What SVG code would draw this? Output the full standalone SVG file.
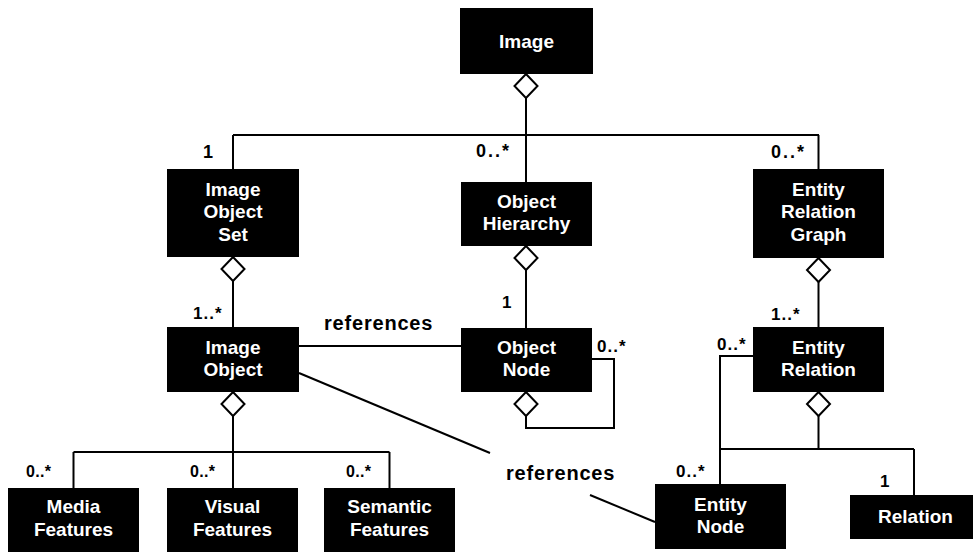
<svg xmlns="http://www.w3.org/2000/svg" width="973" height="552" viewBox="0 0 973 552">
  <style>
    .box { fill: #000; }
    .name { fill: #fff; font-family: "Liberation Sans", Arial, Helvetica, sans-serif; font-weight: bold; font-size: 19px; text-anchor: middle; }
    .mult { fill: #000; font-family: "Liberation Sans", Arial, Helvetica, sans-serif; font-weight: bold; font-size: 17px; letter-spacing: 1px; }
    .mult.top { font-size: 18px; letter-spacing: 2px; }
    .mult.low { font-size: 16px; letter-spacing: 0.3px; }
    .role { fill: #000; font-family: "Liberation Sans", Arial, Helvetica, sans-serif; font-weight: bold; font-size: 20px; letter-spacing: 0.8px; }
    .line { fill: none; stroke: #000; stroke-width: 2; }
    .agg { fill: #fff; stroke: #000; stroke-width: 2; }
  </style>
  <defs>
    <!-- hollow aggregation diamond, top vertex at origin -->
    <path id="diamond" class="agg" d="M0,0 L11.5,12 L0,24 L-11.5,12 Z"/>
  </defs>
  <rect width="973" height="552" fill="#fff"/>

  <g id="connectors">
    <!-- Image aggregates the three top-level parts -->
    <path class="line" d="M526,98 V182"/>
    <path class="line" d="M233,135 H819"/>
    <path class="line" d="M233,135 V169"/>
    <path class="line" d="M818.5,135 V169"/>
    <!-- Image Object Set to Image Object -->
    <path class="line" d="M233,281 V327"/>
    <!-- Image Object to features -->
    <path class="line" d="M233,416 V452"/>
    <path class="line" d="M73.5,452 H389.5"/>
    <path class="line" d="M73.5,452 V488"/>
    <path class="line" d="M389.5,452 V488"/>
    <path class="line" d="M233,452 V488"/>
    <!-- references links -->
    <path class="line" d="M299,346 H461"/>
    <path class="line" d="M299,373 L490,453"/>
    <path class="line" d="M590,495 L655,522"/>
    <!-- Object Hierarchy to Object Node -->
    <path class="line" d="M526,270 V328"/>
    <!-- Object Node self-aggregation -->
    <path class="line" d="M592,359 H614 V428 H526 V416"/>
    <!-- Entity Relation Graph to Entity Relation -->
    <path class="line" d="M818.5,282 V327"/>
    <!-- Entity Relation to Entity Node and Relation -->
    <path class="line" d="M753,356 H720 V484"/>
    <path class="line" d="M818.5,416 V449"/>
    <path class="line" d="M720,449 H914"/>
    <path class="line" d="M914,449 V495"/>
    <!-- aggregation diamonds -->
    <use href="#diamond" x="526" y="74"/>
    <use href="#diamond" x="233" y="257"/>
    <use href="#diamond" x="233" y="392"/>
    <use href="#diamond" x="526" y="246"/>
    <use href="#diamond" x="526" y="392"/>
    <use href="#diamond" x="818.5" y="258"/>
    <use href="#diamond" x="818.5" y="392"/>
    <!-- multiplicities and role labels -->
    <text class="mult top" x="203" y="158">1</text>
    <text class="mult top" x="476" y="157">0..*</text>
    <text class="mult top" x="771" y="158">0..*</text>
    <text class="mult" x="193" y="319">1..*</text>
    <text class="mult" x="502" y="308">1</text>
    <text class="mult" x="597" y="352">0..*</text>
    <text class="mult" x="771" y="320">1..*</text>
    <text class="mult" x="717" y="350">0..*</text>
    <text class="mult low" x="26" y="477">0..*</text>
    <text class="mult low" x="190" y="477">0..*</text>
    <text class="mult low" x="346" y="477">0..*</text>
    <text class="mult" x="676" y="477">0..*</text>
    <text class="mult" x="880" y="487">1</text>
    <text class="role" x="324" y="330">references</text>
    <text class="role" x="506" y="480">references</text>
  </g>

  <g id="image">
    <rect class="box" x="460" y="8" width="133" height="66"/>
    <text class="name" x="526.5" y="48">Image</text>
  </g>
  <g id="image-object-set">
    <rect class="box" x="167" y="169" width="132" height="88"/>
    <text class="name" x="233" y="195.5">Image</text>
    <text class="name" x="233" y="218">Object</text>
    <text class="name" x="233" y="240.5">Set</text>
  </g>
  <g id="object-hierarchy">
    <rect class="box" x="461" y="182" width="131" height="64"/>
    <text class="name" x="526.5" y="207.5">Object</text>
    <text class="name" x="526.5" y="230">Hierarchy</text>
  </g>
  <g id="entity-relation-graph">
    <rect class="box" x="753" y="169" width="131" height="89"/>
    <text class="name" x="818.5" y="195.5">Entity</text>
    <text class="name" x="818.5" y="218">Relation</text>
    <text class="name" x="818.5" y="240.5">Graph</text>
  </g>
  <g id="image-object">
    <rect class="box" x="167" y="327" width="132" height="65"/>
    <text class="name" x="233" y="353.5">Image</text>
    <text class="name" x="233" y="376">Object</text>
  </g>
  <g id="object-node">
    <rect class="box" x="461" y="328" width="131" height="64"/>
    <text class="name" x="526.5" y="353.5">Object</text>
    <text class="name" x="526.5" y="375.5">Node</text>
  </g>
  <g id="entity-relation">
    <rect class="box" x="753" y="327" width="131" height="65"/>
    <text class="name" x="818.5" y="353.5">Entity</text>
    <text class="name" x="818.5" y="376">Relation</text>
  </g>
  <g id="media-features">
    <rect class="box" x="8" y="488" width="131" height="66"/>
    <text class="name" x="73.5" y="513">Media</text>
    <text class="name" x="73.5" y="536">Features</text>
  </g>
  <g id="visual-features">
    <rect class="box" x="167" y="488" width="131" height="66"/>
    <text class="name" x="232.5" y="513">Visual</text>
    <text class="name" x="232.5" y="536">Features</text>
  </g>
  <g id="semantic-features">
    <rect class="box" x="324" y="488" width="131" height="66"/>
    <text class="name" x="389.5" y="513">Semantic</text>
    <text class="name" x="389.5" y="536">Features</text>
  </g>
  <g id="entity-node">
    <rect class="box" x="655" y="484" width="131" height="65"/>
    <text class="name" x="720.5" y="511">Entity</text>
    <text class="name" x="720.5" y="533">Node</text>
  </g>
  <g id="relation">
    <rect class="box" x="850" y="495" width="131" height="44"/>
    <text class="name" x="915.5" y="523">Relation</text>
  </g>
</svg>
